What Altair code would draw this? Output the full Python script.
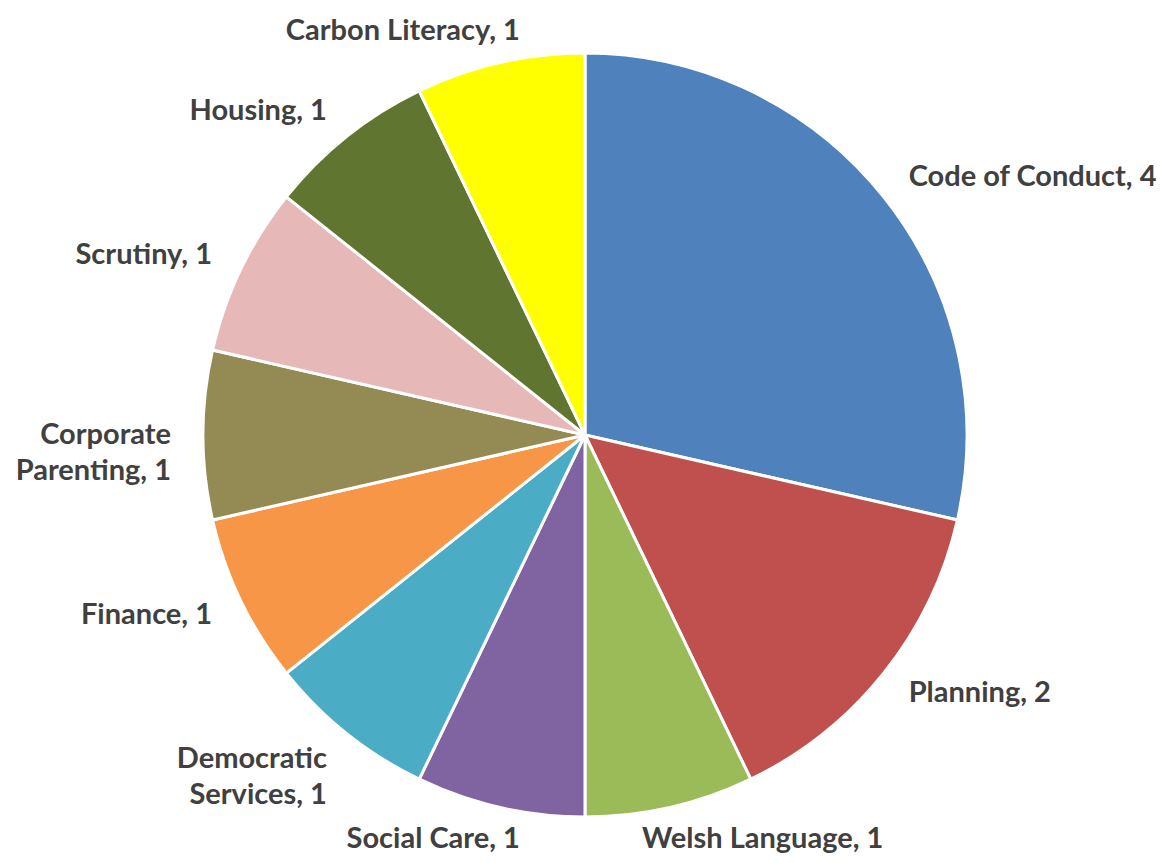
import math
import altair as alt
import pandas as pd

categories = ["Code of Conduct", "Planning", "Welsh Language", "Social Care",
              "Democratic Services", "Finance", "Corporate Parenting", "Scrutiny",
              "Housing", "Carbon Literacy"]
values = [4, 2, 1, 1, 1, 1, 1, 1, 1, 1]
label_lines = [["Code of Conduct, 4"], ["Planning, 2"], ["Welsh Language, 1"],
               ["Social Care, 1"], ["Democratic", "Services, 1"], ["Finance, 1"],
               ["Corporate", "Parenting, 1"], ["Scrutiny, 1"], ["Housing, 1"],
               ["Carbon Literacy, 1"]]
colors = ["#4F81BD", "#C0504D", "#9BBB59", "#8064A2", "#4BACC6", "#F79646",
          "#948A54", "#E6B9B8", "#5F7530", "#FFFF00"]

total = sum(values)
df = pd.DataFrame({
    "category": categories,
    "value": values,
    "order": list(range(len(categories))),
    "label": label_lines,
})

CX, CY = 577, 427
R = 382
LR = 414

theta_scale = alt.Scale(domain=[0, total], range=[0, 2 * math.pi])

pie = alt.Chart(df).mark_arc(outerRadius=R, stroke="white", strokeWidth=3).encode(
    theta=alt.Theta("value:Q", stack=True, scale=theta_scale),
    order=alt.Order("order:Q"),
    color=alt.Color("category:N", scale=alt.Scale(domain=categories, range=colors), legend=None),
    x=alt.value(CX), y=alt.value(CY),
)

text_props = dict(radius=LR, font="Lato", fontWeight="bold", fontSize=29,
                  color="#404040", baseline="middle", lineHeight=36)

labels_base = alt.Chart(df).transform_window(
    cum="sum(value)", sort=[alt.SortField("order")], frame=[None, 0]
).transform_calculate(
    mid="datum.cum - datum.value / 2",
    s="sin(2 * PI * (datum.cum - datum.value / 2) / %d)" % total,
).encode(
    theta=alt.Theta("mid:Q", stack=None, scale=theta_scale),
    text="label",
    x=alt.value(CX), y=alt.value(CY),
)

right_labels = labels_base.mark_text(align="left", **text_props).transform_filter(
    "datum.s >= 0.3"
)
left_labels = labels_base.mark_text(align="right", **text_props).transform_filter(
    "datum.s <= -0.3"
)
right_vert = labels_base.mark_text(align="left", dx=-35, **text_props).transform_filter(
    "datum.s > 0 && datum.s < 0.3"
)
left_vert = labels_base.mark_text(align="right", dx=27, **text_props).transform_filter(
    "datum.s <= 0 && datum.s > -0.3"
)

chart = alt.layer(pie, right_labels, left_labels, right_vert, left_vert).properties(
    width=1148, height=847, autosize=alt.AutoSizeParams(type="none"), padding=0
).configure_view(stroke=None)

chart.save("out.html", embed_options={"renderer": "svg", "actions": False})
